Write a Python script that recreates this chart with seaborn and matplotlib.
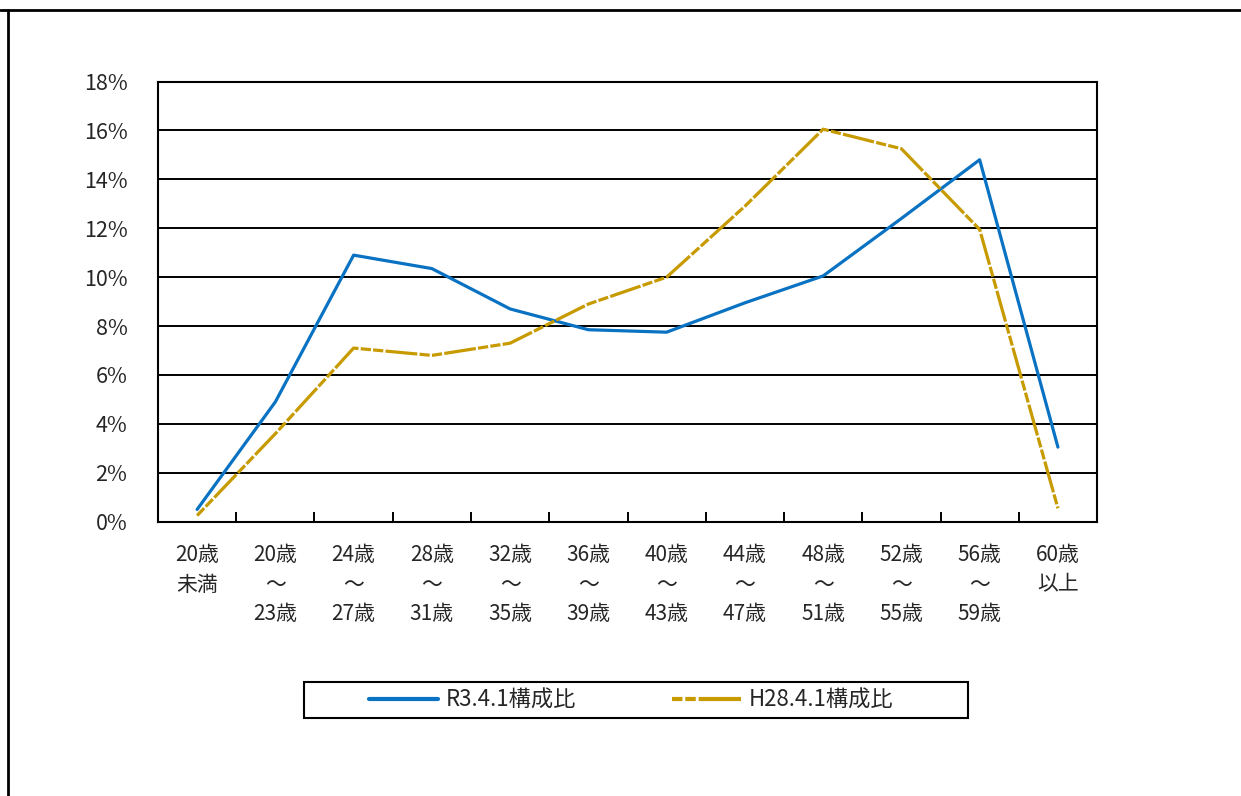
import matplotlib
matplotlib.use("Agg")
import matplotlib.pyplot as plt
from matplotlib.lines import Line2D
from matplotlib.patches import Rectangle
import numpy as np
import pandas as pd
import seaborn as sns

# Age bands (tick labels) and composition ratios (%) for two reference dates
age_labels = [
    "20歳\n未満", "20歳\n～\n23歳", "24歳\n～\n27歳", "28歳\n～\n31歳",
    "32歳\n～\n35歳", "36歳\n～\n39歳", "40歳\n～\n43歳", "44歳\n～\n47歳",
    "48歳\n～\n51歳", "52歳\n～\n55歳", "56歳\n～\n59歳", "60歳\n以上",
]
r3_ratio = [0.5, 4.9, 10.9, 10.35, 8.7, 7.85, 7.75, 8.95, 10.05, 12.4, 14.8, 3.05]
h28_ratio = [0.25, 3.6, 7.1, 6.8, 7.3, 8.9, 10.0, 12.9, 16.05, 15.25, 11.95, 0.55]
series_names = ["R3.4.1構成比", "H28.4.1構成比"]
y_ticks = [0, 2, 4, 6, 8, 10, 12, 14, 16, 18]

sns.set_theme(style="white")
plt.rcParams["font.family"] = ["Noto Sans CJK JP", "DejaVu Sans"]

blue = "#0A72C2"
gold = "#C79A00"

W, H = 1241, 796
fig = plt.figure(figsize=(W / 100, H / 100), dpi=100)
ax = fig.add_axes([0.1273, 0.3446, 0.7567, 0.553])

pos = np.arange(len(age_labels)) + 0.5
df = pd.DataFrame({"pos": pos, "r3": r3_ratio, "h28": h28_ratio})

sns.lineplot(data=df, x="pos", y="r3", ax=ax, color=blue, linewidth=2.3,
             label=series_names[0])
sns.lineplot(data=df, x="pos", y="h28", ax=ax, color=gold, linewidth=2.3,
             label=series_names[1])
ax.lines[1].set_dashes([3.2, 0.7, 3.2, 0.7, 10, 0.7])

ax.set_xlim(0, len(age_labels))
ax.set_ylim(0, 18)
ax.set_xlabel("")
ax.set_ylabel("")

# horizontal grid lines at each y tick
ax.set_yticks(y_ticks)
ax.set_yticklabels([f"{v}%" for v in y_ticks], fontsize=15.5)
for v in y_ticks[1:]:
    ax.axhline(v, color="black", linewidth=1.4, zorder=0.5)
ax.tick_params(axis="y", which="both", length=0, pad=22)

# category boundaries as inward tick marks, labels at category centres
ax.set_xticks(np.arange(1, len(age_labels)))
ax.set_xticklabels([])
ax.set_xticks(pos, minor=True)
ax.set_xticklabels(age_labels, minor=True, fontsize=15, linespacing=1.45)
ax.tick_params(axis="x", which="major", direction="in", length=7, width=1.4,
               color="black", bottom=True)
ax.tick_params(axis="x", which="minor", length=0, pad=16)

for side in ["left", "right", "top", "bottom"]:
    ax.spines[side].set_visible(True)
    ax.spines[side].set_color("black")
    ax.spines[side].set_linewidth(1.5)

ax.get_legend().remove()
handles = [
    Line2D([], [], color=blue, linewidth=3),
    Line2D([], [], color=gold, linewidth=3, dashes=[2.5, 0.7, 2.5, 0.7, 12, 0.7]),
]
fig.legend(handles, series_names, loc="center", ncol=2,
           bbox_to_anchor=(631 / W, 1 - 700 / H), fontsize=16,
           frameon=False, handlelength=3.1, handletextpad=0.35,
           columnspacing=4.3, borderpad=0, borderaxespad=0)

# legend box
fig.add_artist(Rectangle((304 / W, 1 - 718 / H), 664 / W, 36 / H,
                         transform=fig.transFigure, fill=False,
                         edgecolor="black", linewidth=1.5))

# outer chart-area border (top and left edges)
fig.add_artist(Line2D([0, 1], [1 - 10 / H, 1 - 10 / H], color="black",
                      linewidth=2, transform=fig.transFigure))
fig.add_artist(Line2D([8 / W, 8 / W], [0, 1 - 10 / H], color="black",
                      linewidth=2, transform=fig.transFigure))

fig.savefig("out.png", dpi=100, facecolor="white")
